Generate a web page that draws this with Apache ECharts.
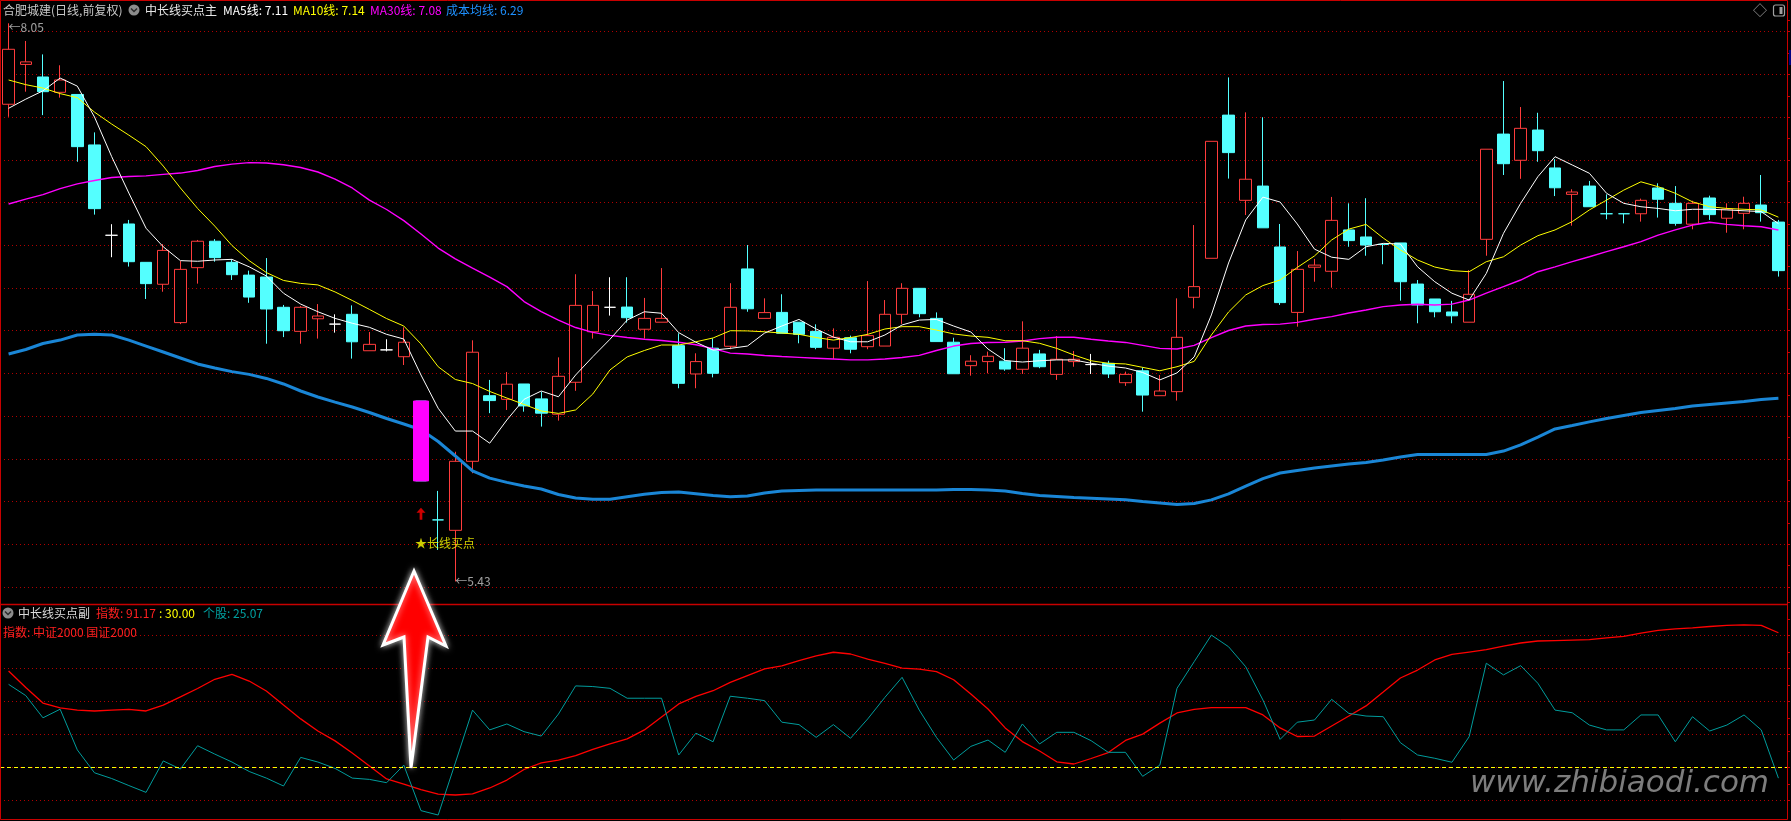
<!DOCTYPE html>
<html><head><meta charset="utf-8">
<script src="https://cdn.jsdelivr.net/npm/echarts@6/dist/echarts.min.js"></script>
<style>html,body{margin:0;padding:0;background:#000;overflow:hidden}#c{width:1791px;height:821px}</style>
</head><body><div id="c"></div>
<script>
// ---- Candles (price) ----
const opens = [7.670,7.857,7.798,7.726,7.716,7.479,7.055,7.108,6.928,6.825,6.645,6.903,7.027,6.928,6.868,6.859,6.717,6.604,6.663,6.638,6.684,6.513,6.517,6.485,6.277,5.719,5.670,5.994,6.302,6.285,6.357,6.287,6.215,6.365,6.602,6.717,6.718,6.614,6.647,6.537,6.404,6.525,6.534,6.897,6.665,6.693,6.647,6.604,6.525,6.574,6.532,6.535,6.684,6.806,6.665,6.553,6.443,6.462,6.464,6.426,6.498,6.402,6.462,6.448,6.454,6.363,6.419,6.302,6.321,6.764,6.947,7.619,7.219,7.286,7.000,6.693,6.905,6.886,7.080,7.047,7.012,7.019,6.826,6.756,6.695,6.647,7.036,7.530,7.407,7.549,7.371,7.247,7.286,7.156,7.156,7.156,7.277,7.205,7.107,7.230,7.135,7.158,7.197,7.117];
const closes = [7.928,7.869,7.729,7.784,7.471,7.180,7.055,6.931,6.828,6.984,6.895,7.027,6.950,6.870,6.765,6.709,6.607,6.717,6.676,6.638,6.555,6.543,6.517,6.553,5.902,5.719,5.994,6.506,6.279,6.356,6.254,6.220,6.393,6.726,6.726,6.717,6.668,6.665,6.665,6.360,6.462,6.407,6.717,6.710,6.692,6.595,6.590,6.529,6.576,6.520,6.584,6.684,6.806,6.687,6.556,6.405,6.464,6.487,6.427,6.525,6.438,6.473,6.473,6.448,6.404,6.402,6.305,6.324,6.576,6.814,7.496,7.443,7.318,7.090,6.739,6.895,6.915,7.125,7.030,7.009,7.012,6.837,6.728,6.696,6.677,6.778,7.459,7.391,7.557,7.452,7.278,7.258,7.189,7.156,7.156,7.219,7.224,7.111,7.205,7.152,7.178,7.205,7.161,6.889];
const lows = [7.611,7.729,7.619,7.701,7.400,7.152,6.952,6.908,6.756,6.790,6.638,6.828,6.931,6.845,6.738,6.546,6.577,6.546,6.570,6.598,6.476,6.513,6.510,6.446,5.902,5.578,5.430,5.938,6.220,6.235,6.227,6.157,6.185,6.325,6.570,6.678,6.645,6.570,6.647,6.337,6.337,6.388,6.520,6.696,6.665,6.595,6.548,6.520,6.474,6.501,6.520,6.535,6.639,6.670,6.556,6.405,6.396,6.407,6.419,6.404,6.431,6.376,6.438,6.404,6.385,6.348,6.227,6.302,6.279,6.712,6.947,7.321,7.150,7.090,6.728,6.626,6.837,6.809,7.001,6.959,6.919,6.748,6.642,6.670,6.642,6.647,6.959,7.338,7.320,7.400,7.239,7.100,7.189,7.130,7.111,7.119,7.138,7.100,7.083,7.127,7.067,7.083,7.119,6.861];
const highs = [8.050,7.967,7.904,7.853,7.716,7.538,7.107,7.127,6.928,7.014,6.934,7.033,7.037,6.942,6.889,6.948,6.728,6.723,6.732,6.684,6.726,6.601,6.567,6.623,6.277,5.855,6.039,6.562,6.376,6.413,6.357,6.321,6.482,6.872,6.793,6.858,6.858,6.761,6.901,6.595,6.501,6.571,6.830,7.009,6.759,6.778,6.647,6.637,6.618,6.584,6.840,6.751,6.830,6.806,6.693,6.574,6.492,6.509,6.525,6.651,6.517,6.582,6.512,6.498,6.466,6.415,6.435,6.399,6.759,7.103,7.496,7.796,7.632,7.609,7.108,6.981,6.944,7.235,7.205,7.229,7.017,7.019,6.845,6.756,6.747,6.892,7.459,7.779,7.657,7.630,7.412,7.271,7.310,7.247,7.156,7.227,7.299,7.286,7.217,7.241,7.205,7.236,7.338,7.127];
const whiteDoji = [6,19,22,35,63];
const cyanDoji = [25,80,93,94];

// ---- Moving averages (price) ----
const ma5 = [7.651,7.694,7.733,7.793,7.755,7.610,7.424,7.253,7.088,7.001,6.936,6.933,6.939,6.942,6.907,6.864,6.783,6.732,6.696,6.665,6.642,6.623,6.590,6.568,6.399,6.243,6.136,6.136,6.079,6.188,6.285,6.324,6.297,6.399,6.485,6.567,6.657,6.696,6.689,6.598,6.553,6.516,6.524,6.535,6.596,6.629,6.660,6.615,6.577,6.555,6.555,6.587,6.634,6.657,6.660,6.629,6.601,6.521,6.467,6.460,6.466,6.470,6.470,6.454,6.441,6.432,6.411,6.376,6.409,6.484,6.681,6.925,7.127,7.234,7.211,7.108,6.990,6.952,6.942,7.001,7.017,7.014,6.907,6.837,6.783,6.751,6.876,7.064,7.205,7.330,7.424,7.385,7.346,7.252,7.205,7.189,7.181,7.170,7.177,7.177,7.174,7.170,7.166,7.110];
const ma10 = [7.784,7.762,7.746,7.720,7.701,7.633,7.577,7.525,7.471,7.380,7.277,7.181,7.098,7.007,6.936,6.880,6.843,6.829,6.822,6.789,6.749,6.707,6.664,6.629,6.545,6.438,6.378,6.359,6.322,6.291,6.261,6.230,6.219,6.235,6.310,6.423,6.484,6.514,6.540,6.540,6.555,6.573,6.607,6.606,6.602,6.596,6.590,6.575,6.563,6.575,6.590,6.615,6.626,6.626,6.610,6.592,6.582,6.576,6.560,6.560,6.548,6.524,6.493,6.466,6.454,6.451,6.435,6.419,6.438,6.463,6.587,6.695,6.775,6.819,6.845,6.904,6.958,7.033,7.084,7.106,7.042,6.986,6.939,6.906,6.889,6.884,6.931,6.954,7.009,7.053,7.080,7.119,7.174,7.220,7.267,7.306,7.283,7.252,7.212,7.189,7.181,7.177,7.174,7.140];
const ma30 = [7.202,7.225,7.246,7.274,7.296,7.312,7.326,7.331,7.334,7.341,7.347,7.359,7.378,7.389,7.396,7.394,7.386,7.373,7.352,7.319,7.277,7.220,7.176,7.124,7.061,6.995,6.944,6.901,6.859,6.814,6.744,6.697,6.657,6.622,6.599,6.585,6.575,6.567,6.561,6.553,6.541,6.523,6.502,6.498,6.491,6.486,6.482,6.478,6.474,6.470,6.470,6.474,6.481,6.491,6.514,6.535,6.547,6.552,6.553,6.559,6.570,6.576,6.576,6.567,6.559,6.552,6.538,6.524,6.521,6.538,6.575,6.608,6.629,6.636,6.638,6.646,6.661,6.673,6.690,6.704,6.720,6.728,6.731,6.728,6.732,6.751,6.783,6.814,6.845,6.884,6.907,6.931,6.954,6.978,7.001,7.025,7.056,7.080,7.103,7.116,7.106,7.100,7.095,7.080];
const costMA = [6.498,6.519,6.547,6.563,6.587,6.590,6.587,6.563,6.535,6.507,6.479,6.451,6.432,6.415,6.402,6.383,6.357,6.324,6.296,6.272,6.249,6.223,6.195,6.169,6.142,6.087,6.019,5.949,5.915,5.895,5.878,5.864,5.838,5.822,5.816,5.816,5.828,5.839,5.848,5.850,5.842,5.833,5.828,5.831,5.845,5.855,5.857,5.859,5.859,5.859,5.859,5.859,5.859,5.859,5.859,5.862,5.862,5.859,5.855,5.843,5.834,5.829,5.824,5.821,5.817,5.813,5.805,5.798,5.791,5.796,5.813,5.841,5.878,5.913,5.939,5.951,5.963,5.972,5.981,5.988,6.000,6.014,6.026,6.026,6.026,6.026,6.026,6.042,6.071,6.108,6.146,6.162,6.179,6.195,6.209,6.223,6.233,6.242,6.254,6.261,6.268,6.275,6.284,6.290];

// ---- Sub indicator ----
const indexLine = [73.8,66.3,59.2,57.0,56.0,55.6,56.0,56.3,55.6,58.3,62.0,65.8,70.0,72.2,69.2,64.7,58.3,52.0,46.5,42.0,36.5,30.6,24.7,22.4,19.9,17.8,17.4,17.9,20.6,24.2,29.0,32.0,33.3,35.3,38.1,40.6,42.9,47.0,52.9,58.8,62.2,64.8,68.6,71.7,74.7,76.1,78.5,80.6,82.3,81.5,79.2,77.2,75.1,74.6,73.5,69.8,63.3,56.5,47.9,41.7,37.4,32.5,31.5,34.0,36.7,42.2,45.1,50.1,54.7,56.3,57.1,57.1,57.1,53.8,47.9,44.0,44.2,48.8,53.3,57.9,64.2,70.6,74.2,78.8,81.3,82.4,83.5,85.1,86.5,87.4,87.6,87.8,88.0,88.8,89.5,91.0,92.2,92.9,93.4,94.0,94.5,94.7,94.5,91.17];
const stockLine = [67.7,62.6,52.5,56.4,37.9,27.5,24.9,21.7,18.6,32.9,29.2,39.8,36.0,32.4,28.1,25.1,21.5,34.5,32.4,29.5,25.1,24.5,23.0,31.0,10.3,8.3,32.0,56.0,47.0,49.7,46.2,44.2,54.2,67.0,66.7,65.9,61.4,61.4,61.4,35.6,45.5,41.6,62.3,61.4,60.3,50.5,49.4,43.6,49.4,43.2,52.0,61.8,70.9,56.0,43.6,33.3,39.5,42.4,36.8,49.7,40.6,45.9,45.9,42.1,36.8,36.8,25.9,31.0,65.9,78.0,90.1,84.8,75.7,60.6,42.7,50.5,51.5,60.9,54.5,53.3,53.0,41.2,35.6,34.1,32.3,43.9,77.3,72.0,76.2,68.2,56.0,54.8,49.2,47.0,47.0,53.8,53.8,41.6,53.0,46.5,49.2,53.8,47.0,25.07];
const threshold = 30;

// ---- Signal / annotations ----
const signalIndex = 24, signalTop = 6.277, signalBottom = 5.902;
const highMark = {idx: 0, price: 8.05};
const lowMark = {idx: 26, price: 5.43};
const buyLabel = {idx: 24, price: 5.610, text: '★长线买点'};
const buyArrow = {idx: 24, price: 5.748};
const mainGridPrices = {min: 5.404, max: 8.0655, step: 0.2005};
const subRange = {min: 15, max: 105, step: 15};

const UP = '#ff3c3c', DOWN = '#54ffff', GRIDC = '#b00000', BORDER = '#c80000';
const FONT = '"Noto Sans CJK SC", "Noto Sans", sans-serif';
const categories = opens.map((_, i) => 'K' + (i + 1));

const candleData = opens.map((o, i) => {
  const item = {value: [o, closes[i], lows[i], highs[i]]};
  if (whiteDoji.includes(i)) item.itemStyle = {color:'#ffffff', color0:'#ffffff', borderColor:'#ffffff', borderColor0:'#ffffff'};
  if (cyanDoji.includes(i)) item.itemStyle = {color:DOWN, color0:DOWN, borderColor:DOWN, borderColor0:DOWN};
  return item;
});
const signalData = categories.map((_, i) => i === signalIndex ? [signalTop, signalBottom, signalBottom, signalTop] : '-');

function line(name, data, color, width, xi, yi) {
  return {name, type:'line', data, xAxisIndex:xi, yAxisIndex:yi, symbol:'none', showSymbol:false, clip:false,
    lineStyle:{color, width}, itemStyle:{color}, animation:false, silent:true, z:3};
}
function txt(x, y, text, fill, size) {
  return {type:'text', x, y, silent:true, z:50, style:{text, fill, font:(size||12)+'px ' + FONT, textVerticalAlign:'middle', verticalAlign:'middle'}};
}

const chart = echarts.init(document.getElementById('c'));
chart.setOption({
  backgroundColor:'#000000',
  animation:false,
  grid:[
    {left:0, right:4, top:20, height:567},
    {left:0, right:4, top:602.3, height:198}
  ],
  xAxis:[
    {type:'category', data:categories, gridIndex:0, show:false, boundaryGap:true},
    {type:'category', data:categories, gridIndex:1, show:false, boundaryGap:true}
  ],
  yAxis:[
    {type:'value', gridIndex:0, position:'right', min:mainGridPrices.min, max:mainGridPrices.max, interval:mainGridPrices.step,
     axisLabel:{show:false}, axisLine:{show:false},
     axisTick:{show:true, length:3, lineStyle:{color:BORDER}},
     minorTick:{show:true, splitNumber:2, length:3, lineStyle:{color:BORDER}},
     splitLine:{show:true, showMaxLine:false, lineStyle:{color:GRIDC, type:[1,3], width:1}}},
    {type:'value', gridIndex:1, position:'right', min:subRange.min, max:subRange.max, interval:subRange.step,
     axisLabel:{show:false}, axisLine:{show:false},
     axisTick:{show:true, length:3, lineStyle:{color:BORDER}},
     minorTick:{show:true, splitNumber:2, length:3, lineStyle:{color:BORDER}},
     splitLine:{show:true, showMaxLine:false, lineStyle:{color:GRIDC, type:[1,3], width:1}}}
  ],
  series:[
    {name:'K', type:'candlestick', data:candleData, xAxisIndex:0, yAxisIndex:0, barWidth:12, silent:true, z:2,
     itemStyle:{color:'#000000', color0:DOWN, borderColor:UP, borderColor0:DOWN, borderWidth:1}},
    {name:'signal', type:'candlestick', data:signalData, xAxisIndex:0, yAxisIndex:0, barWidth:15, silent:true, z:4,
     itemStyle:{color:'#ff00ff', color0:'#ff00ff', borderColor:'#ff00ff', borderColor0:'#ff00ff', borderWidth:1}},
    line('成本均线', costMA, '#1a86d6', 3, 0, 0),
    line('MA30', ma30, '#ff00ff', 1.4, 0, 0),
    line('MA10', ma10, '#ffff00', 1, 0, 0),
    line('MA5', ma5, '#ffffff', 1, 0, 0),
    {name:'ann', type:'scatter', xAxisIndex:0, yAxisIndex:0, symbolSize:0, silent:true, z:6,
     data:[
       {value:[highMark.idx, highMark.price], label:{show:true, position:'right', distance:0, offset:[0,4], formatter:'←' + highMark.price.toFixed(2), color:'#c8c8c8', fontSize:12, fontFamily:FONT}},
       {value:[lowMark.idx, lowMark.price], label:{show:true, position:'right', distance:0, formatter:'←' + lowMark.price.toFixed(2), color:'#c8c8c8', fontSize:12, fontFamily:FONT}},
       {value:[buyLabel.idx, buyLabel.price], label:{show:true, position:'right', distance:-6, formatter:buyLabel.text, color:'#ffff00', fontSize:12, fontFamily:FONT}}
     ]},
    {name:'arrow', type:'scatter', xAxisIndex:0, yAxisIndex:0, silent:true, z:6,
     symbol:'path://M5,0 L10,5 L6.5,5 L6.5,12 L3.5,12 L3.5,5 L0,5 Z', symbolSize:[9,12],
     itemStyle:{color:'#ff0000'}, data:[[buyArrow.idx, buyArrow.price]]},
    line('指数', indexLine, '#ff0000', 1.3, 1, 1),
    Object.assign(line('个股', stockLine, '#009c9c', 1, 1, 1), {
      markLine:{silent:true, symbol:'none', label:{show:false}, animation:false,
        lineStyle:{color:'#ffff00', type:[4,3], width:1}, data:[{yAxis:threshold}]}})
  ],
  graphic:[
    {type:'rect', silent:true, z:40, shape:{x:0.5, y:0.5, width:1787, height:819}, style:{fill:null, stroke:BORDER, lineWidth:1}},
    {type:'line', silent:true, z:40, shape:{x1:0, y1:604.5, x2:1788, y2:604.5}, style:{stroke:BORDER, lineWidth:1.5}},
    {type:'rect', silent:true, z:40, shape:{x:1789, y:50, width:2, height:15}, style:{fill:'#000080'}},
    // title row
    txt(3, 10, '合肥城建(日线,前复权)', '#c8c8c8'),
    {type:'circle', silent:true, z:50, shape:{cx:134, cy:10, r:5.5}, style:{fill:'#8c8c8c'}},
    {type:'polyline', silent:true, z:51, shape:{points:[[131,8.5],[134,11.5],[137,8.5]]}, style:{stroke:'#2a2a2a', lineWidth:1.5, fill:null}},
    txt(145, 10, '中长线买点主', '#e6e6e6'),
    txt(223, 10, 'MA5线: 7.11', '#ffffff'),
    txt(293, 10, 'MA10线: 7.14', '#ffff00'),
    txt(370, 10, 'MA30线: 7.08', '#ff00ff'),
    txt(446, 10, '成本均线: 6.29', '#1e90ff'),
    txt(1753, 10, '◇', '#9a9a9a', 14),
    {type:'rect', silent:true, z:50, shape:{x:1773.5, y:5, width:11, height:11, r:2}, style:{fill:null, stroke:'#a0a0a0', lineWidth:1.2}},
    {type:'rect', silent:true, z:50, shape:{x:1779.5, y:7, width:3, height:7}, style:{fill:'#a0a0a0'}},
    // sub header
    {type:'circle', silent:true, z:50, shape:{cx:8, cy:613, r:5.5}, style:{fill:'#8c8c8c'}},
    {type:'polyline', silent:true, z:51, shape:{points:[[5,611.5],[8,614.5],[11,611.5]]}, style:{stroke:'#2a2a2a', lineWidth:1.5, fill:null}},
    txt(18, 613, '中长线买点副', '#d8d8d8'),
    txt(96, 613, '指数: 91.17', '#ff2020'),
    txt(159, 613, ': 30.00', '#ffff00'),
    txt(203, 613, '个股: 25.07', '#00a0a0'),
    txt(3, 632, '指数: 中证2000 国证2000', '#ff2020'),
    // watermark
    {type:'text', silent:true, z:45, x:1470, y:784, style:{text:'www.zhibiaodi.com', fill:'#7d7d7d', font:'italic 31px "DejaVu Sans", sans-serif', textVerticalAlign:'middle', verticalAlign:'middle', shadowColor:'rgba(255,255,255,0.35)', shadowBlur:3}},
    // big arrow annotation
    {type:'polygon', silent:true, z:60, shape:{points:[[414,571],[446,646],[428,637],[411,768],[404,637],[383,645]]},
     style:{fill:'#ff0000', stroke:'#ffffff', lineWidth:3, lineJoin:'miter', shadowBlur:6, shadowColor:'rgba(255,255,255,0.7)'}}
  ]
});
</script></body></html>
